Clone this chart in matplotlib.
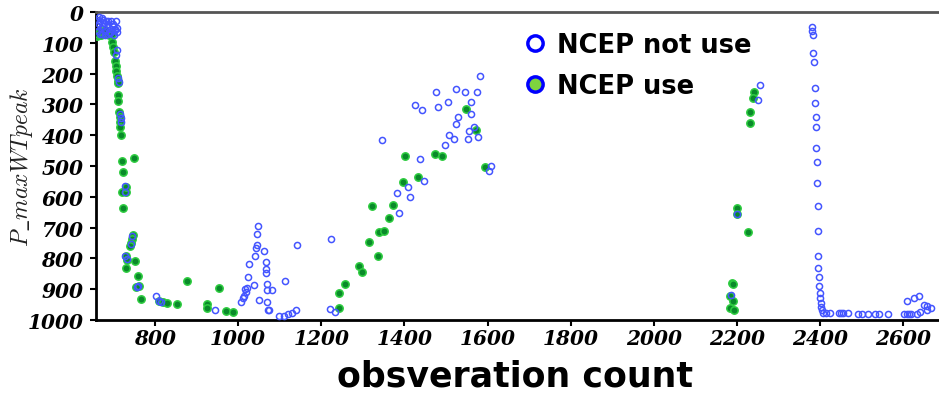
import numpy as np
import matplotlib.pyplot as plt
from matplotlib.lines import Line2D

use_x = [660, 664, 670, 676, 684, 690, 697, 668, 680,
         697, 699, 702, 704, 705, 707, 709, 710, 711, 710, 710, 713, 715, 716,
         717, 718, 721, 722, 749, 720, 730, 730, 724, 746, 744, 742, 740, 730,
         732, 730, 751, 760, 754, 762, 767, 878, 810, 820, 828, 852, 924, 924,
         955, 971, 987,
         1243, 1243, 1257, 1291, 1297, 1315, 1336, 1339, 1351, 1322, 1363, 1372,
         1402, 1474, 1490, 1594, 1397, 1432, 1548, 1573,
         2242, 2238, 2232, 2232, 2199, 2199, 2227, 2188, 2190, 2184, 2191, 2184,
         2194]
use_y = [79, 70, 76, 66, 70, 74, 72, 62, 58,
         98, 115, 131, 158, 174, 190, 207, 223, 232, 270, 288, 326, 342, 358,
         372, 401, 483, 520, 475, 585, 583, 569, 637, 724, 737, 750, 761, 791,
         804, 832, 808, 858, 892, 891, 932, 875, 937, 940, 945, 948, 948, 962,
         895, 972, 975,
         960, 912, 884, 824, 843, 746, 793, 713, 712, 631, 669, 626,
         469, 462, 467, 503, 551, 537, 316, 382,
         261, 280, 326, 362, 638, 656, 713, 881, 884, 921, 938, 960,
         966]

not_x = [662, 665, 668, 670, 672, 675, 678, 680, 683, 685, 688, 690, 693, 695,
         698, 700, 703, 705, 708, 663, 667, 673, 679, 686, 692, 702, 688, 704,
         708, 660, 666, 676,
         708, 706, 712, 713, 716, 718, 719, 729, 729, 744, 743, 729, 733, 756,
         760, 802, 810, 815,
         944, 1008, 1011, 1014, 1017, 1019, 1022, 1023, 1027, 1037, 1041, 1042,
         1045, 1046, 1047, 1049, 1063, 1068, 1067, 1068, 1070, 1069, 1081, 1070,
         1071, 1075, 1098, 1110, 1121, 1130, 1138, 1113, 1142,
         1224, 1222, 1234, 1387, 1383, 1414, 1581, 1525, 1477, 1546, 1574, 1559,
         1504, 1426, 1442, 1481, 1561, 1529, 1524, 1568, 1556, 1507, 1519, 1552,
         1577, 1345, 1498, 1438, 1609, 1604, 1447, 1408,
         2255, 2251, 2200, 2186,
         2380, 2381, 2382, 2384, 2385, 2387, 2388, 2389, 2390, 2391, 2392, 2393,
         2394, 2394, 2395, 2396, 2397, 2398, 2399, 2400, 2401, 2402, 2404, 2408,
         2415, 2423, 2446, 2451, 2456, 2466, 2491, 2501, 2515, 2532, 2542, 2563,
         2602, 2609, 2615, 2618, 2634, 2641, 2609, 2625, 2638, 2649, 2658, 2666,
         2658]
not_y = [25, 40, 30, 52, 20, 45, 35, 62, 28, 50, 40, 65, 30, 55,
         45, 38, 60, 28, 52, 62, 72, 70, 75, 72, 68, 75, 28, 55,
         66, 45, 15, 25,
         122, 140, 215, 226, 330, 345, 356, 566, 585, 726, 753, 791, 802, 892,
         891, 921, 937, 940,
         966, 942, 929, 923, 899, 908, 897, 860, 819, 888, 791, 766,
         756, 721, 695, 935, 776, 813, 834, 848, 884, 903, 903, 940,
         966, 966, 987, 987, 981, 978, 969, 874, 758,
         737, 964, 975, 653, 589, 600, 209, 250, 261, 261, 261, 291,
         292, 302, 319, 308, 332, 342, 363, 372, 386, 400, 412, 413,
         405, 416, 433, 476, 499, 516, 548, 568,
         236, 286, 655, 920,
         49, 61, 76, 134, 163, 246, 296, 340, 375, 441, 486, 555,
         630, 710, 791, 832, 862, 891, 912, 930, 945, 959, 968, 977,
         977, 977, 977, 977, 977, 977, 979, 979, 979, 979, 979, 979,
         979, 979, 979, 979, 979, 975, 937, 929, 921, 950, 954, 962,
         967]

x_ticks = list(range(800, 2601, 200))
y_ticks = list(range(0, 1001, 100))

plt.rcParams['mathtext.fontset'] = 'cm'

fig = plt.figure(figsize=(9.39, 4.02), dpi=100)
ax = fig.add_axes([0.1022, 0.2015, 0.8978, 0.7662])

ax.plot(use_x, use_y, 'o', ls='none', ms=5.3, mfc='#0a8a2a', mec='#2ecc40',
        mew=1.1, zorder=3)
ax.plot(not_x, not_y, 'o', ls='none', ms=4.4, mfc='none', mec='#4455ff',
        mew=1.1, zorder=4)

ax.set_xlim(658, 2686)
ax.set_ylim(1000, 0)
ax.set_xticks(x_ticks)
ax.set_yticks(y_ticks)
ax.tick_params(direction='out', length=4, width=1.5, pad=2)
ax.tick_params(axis='y', pad=5)
for lab in ax.get_xticklabels() + ax.get_yticklabels():
    lab.set_family('DejaVu Serif')
    lab.set_weight('bold')
    lab.set_style('italic')
    lab.set_fontsize(14.5)

ax.spines['right'].set_visible(False)
ax.spines['top'].set_color('#555555')
for s in ['top', 'left', 'bottom']:
    ax.spines[s].set_linewidth(2)

ax.set_ylabel(r'$P\_maxWTpeak$', fontsize=17, color='#222222')
ax.yaxis.set_label_coords(-0.072, 0.5)
ax.set_xlabel('obsveration count', fontsize=25, fontweight='bold',
              family='DejaVu Sans')
ax.xaxis.set_label_coords(0.497, -0.125)

handles = [
    Line2D([], [], marker='o', ls='none', ms=11, mfc='white', mec='#0000ff', mew=2.5),
    Line2D([], [], marker='o', ls='none', ms=11, mfc='#7ed43f', mec='#0000ff', mew=2.5),
]
fig.legend(handles, ['NCEP not use', 'NCEP use'], loc='upper left',
           bbox_to_anchor=(0.556, 0.917), frameon=False,
           prop={'family': 'DejaVu Sans', 'weight': 'bold', 'size': 18.5},
           handlelength=1.0, handletextpad=0.35, labelspacing=0.57,
           borderpad=0, borderaxespad=0)

fig.savefig('out.png', dpi=100)
